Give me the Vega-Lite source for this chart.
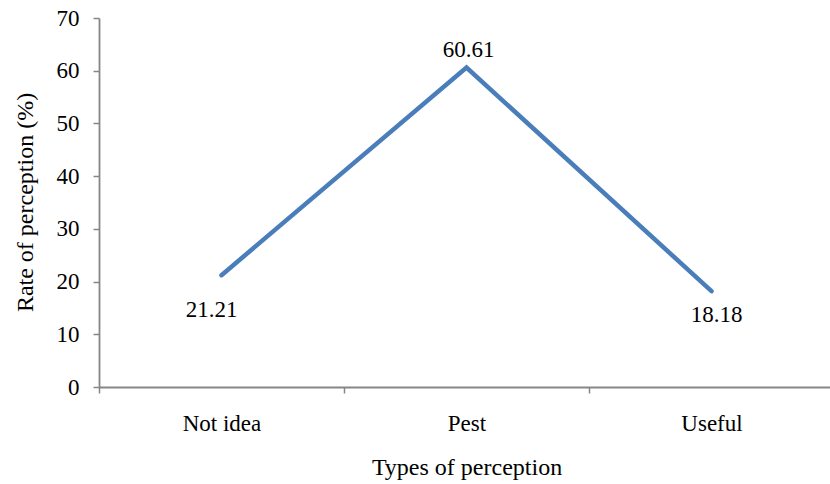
{
  "$schema": "https://vega.github.io/schema/vega-lite/v6.json",
  "autosize": {"type": "none"},
  "width": 731,
  "height": 369,
  "padding": {"left": 99, "top": 18, "right": 0, "bottom": 97},
  "background": "white",
  "config": {
    "view": {"stroke": null},
    "font": "Liberation Serif",
    "style": {
      "guide-label": {"font": "Liberation Serif", "fill": "black"},
      "guide-title": {"font": "Liberation Serif", "fill": "black"}
    },
    "axis": {
      "domainColor": "#868686",
      "tickColor": "#868686",
      "domainWidth": 1.8,
      "tickWidth": 1.5,
      "tickSize": 6,
      "grid": false
    }
  },
  "data": {
    "values": [
      {"type": "Not idea", "rate": 21.21},
      {"type": "Pest", "rate": 60.61},
      {"type": "Useful", "rate": 18.18}
    ]
  },
  "encoding": {
    "x": {
      "field": "type",
      "type": "nominal",
      "sort": null,
      "scale": {"range": [0, 735], "paddingInner": 0, "paddingOuter": 0},
      "axis": {
        "title": "Types of perception",
        "labelFont": "Liberation Serif",
        "titleFont": "Liberation Serif",
        "labelColor": "black",
        "titleColor": "black",
        "titleFontWeight": "normal",
        "labelAngle": 0,
        "labelFontSize": 23,
        "labelPadding": 19,
        "tickBand": "extent",
        "titleFontSize": 24,
        "titleBaseline": "middle",
        "titleY": 80
      }
    },
    "y": {
      "field": "rate",
      "type": "quantitative",
      "scale": {"domain": [0, 70], "nice": false},
      "axis": {
        "title": "Rate of perception (%)",
        "labelFont": "Liberation Serif",
        "titleFont": "Liberation Serif",
        "labelColor": "black",
        "titleColor": "black",
        "titleFontWeight": "normal",
        "values": [0, 10, 20, 30, 40, 50, 60, 70],
        "labelFontSize": 23,
        "labelPadding": 14,
        "titleFontSize": 24,
        "titleAngle": -90,
        "titleAlign": "center",
        "titleBaseline": "middle",
        "titleX": -74,
        "titleY": 184
      }
    }
  },
  "layer": [
    {
      "mark": {"type": "line", "color": "#4A7EBB", "strokeWidth": 4.5, "strokeCap": "round", "strokeJoin": "miter"}
    },
    {
      "transform": [{"filter": "datum.type === 'Not idea'"}],
      "mark": {"type": "text", "font": "Liberation Serif", "fontSize": 23, "baseline": "alphabetic", "align": "center", "dx": -10, "dy": 41.5, "color": "black"},
      "encoding": {"text": {"field": "rate", "type": "quantitative", "format": ".2f"}}
    },
    {
      "transform": [{"filter": "datum.type === 'Pest'"}],
      "mark": {"type": "text", "font": "Liberation Serif", "fontSize": 23, "baseline": "alphabetic", "align": "center", "dx": 2, "dy": -10.2, "color": "black"},
      "encoding": {"text": {"field": "rate", "type": "quantitative", "format": ".2f"}}
    },
    {
      "transform": [{"filter": "datum.type === 'Useful'"}],
      "mark": {"type": "text", "font": "Liberation Serif", "fontSize": 23, "baseline": "alphabetic", "align": "center", "dx": 5, "dy": 30.5, "color": "black"},
      "encoding": {"text": {"field": "rate", "type": "quantitative", "format": ".2f"}}
    }
  ]
}
